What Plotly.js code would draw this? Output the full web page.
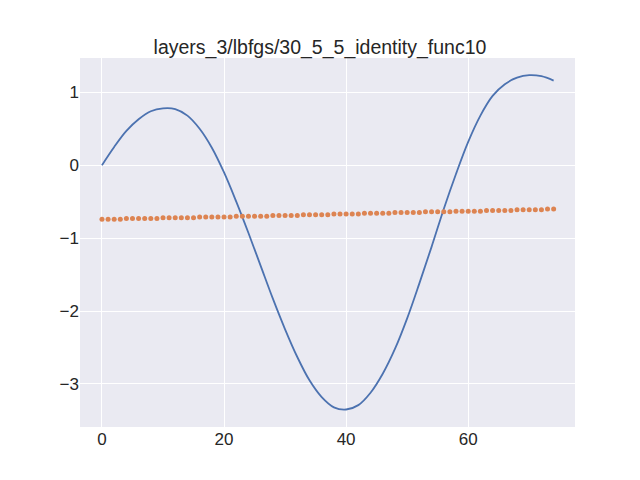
<!DOCTYPE html>
<html>
<head>
<script src="https://cdn.plot.ly/plotly-3.0.1.min.js"></script>
</head>
<body style="margin:0">
<div id="plot" style="width:640px;height:480px"></div>
<script>
// blue curve, read every 2 steps
const curveX = [0, 2, 4, 6, 8, 10, 12, 14, 16, 18, 20, 22, 24, 26, 28, 30, 32, 34, 36, 38,
  40, 42, 44, 46, 48, 50, 52, 54, 56, 58, 60, 62, 64, 66, 68, 70, 72, 74];
const curveY = [0, 0.25, 0.47, 0.63, 0.74, 0.78, 0.77, 0.68, 0.50, 0.24, -0.10, -0.50, -0.93,
  -1.38, -1.83, -2.25, -2.63, -2.95, -3.18, -3.32, -3.35, -3.29, -3.12, -2.86, -2.52, -2.10,
  -1.62, -1.12, -0.60, -0.12, 0.32, 0.68, 0.95, 1.11, 1.20, 1.235, 1.22, 1.16];

// orange dots, one per step
const dotsY = [
  -0.74, -0.74, -0.74, -0.74, -0.73, -0.73, -0.73, -0.73, -0.73, -0.73,
  -0.72, -0.72, -0.72, -0.72, -0.72, -0.72, -0.71, -0.71, -0.71, -0.71,
  -0.71, -0.71, -0.70, -0.70, -0.70, -0.70, -0.70, -0.70, -0.69, -0.69,
  -0.69, -0.69, -0.69, -0.68, -0.68, -0.68, -0.68, -0.68, -0.67, -0.67,
  -0.67, -0.67, -0.67, -0.66, -0.66, -0.66, -0.66, -0.66, -0.65, -0.65,
  -0.65, -0.65, -0.65, -0.64, -0.64, -0.64, -0.64, -0.64, -0.63, -0.63,
  -0.63, -0.63, -0.63, -0.62, -0.62, -0.62, -0.62, -0.62, -0.61, -0.61,
  -0.61, -0.61, -0.61, -0.60, -0.60];
const dotsX = dotsY.map((_, i) => i);

const data = [
  {
    x: curveX, y: curveY, type: 'scatter', mode: 'lines',
    line: { color: '#4c72b0', width: 1.8, shape: 'spline' },
  },
  {
    x: dotsX, y: dotsY, type: 'scatter', mode: 'markers',
    marker: { color: '#dd8452', size: 5 },
  },
];

const layout = {
  width: 640, height: 480,
  paper_bgcolor: 'white', plot_bgcolor: '#eaeaf2',
  font: { family: 'Liberation Sans, Arial', size: 17, color: '#262626' },
  showlegend: false,
  title: { text: 'layers_3/lbfgs/30_5_5_identity_func10', x: 0.5, xanchor: 'center',
    y: 0.915, font: { size: 19.5 } },
  margin: { l: 80, r: 65, t: 58, b: 53 },
  xaxis: {
    range: [-3.6, 77.5], tickvals: [0, 20, 40, 60], gridcolor: 'white', gridwidth: 1.2,
    zeroline: false, ticks: '', showline: false,
  },
  yaxis: {
    range: [-3.59, 1.47], tickvals: [1, 0, -1, -2, -3], ticktext: ['1', '0', '−1', '−2', '−3'],
    gridcolor: 'white', gridwidth: 1.2, zeroline: false, ticks: '', ticklen: 8,
  },
};

Plotly.newPlot('plot', data, layout, { displayModeBar: false });
</script>
</body>
</html>
